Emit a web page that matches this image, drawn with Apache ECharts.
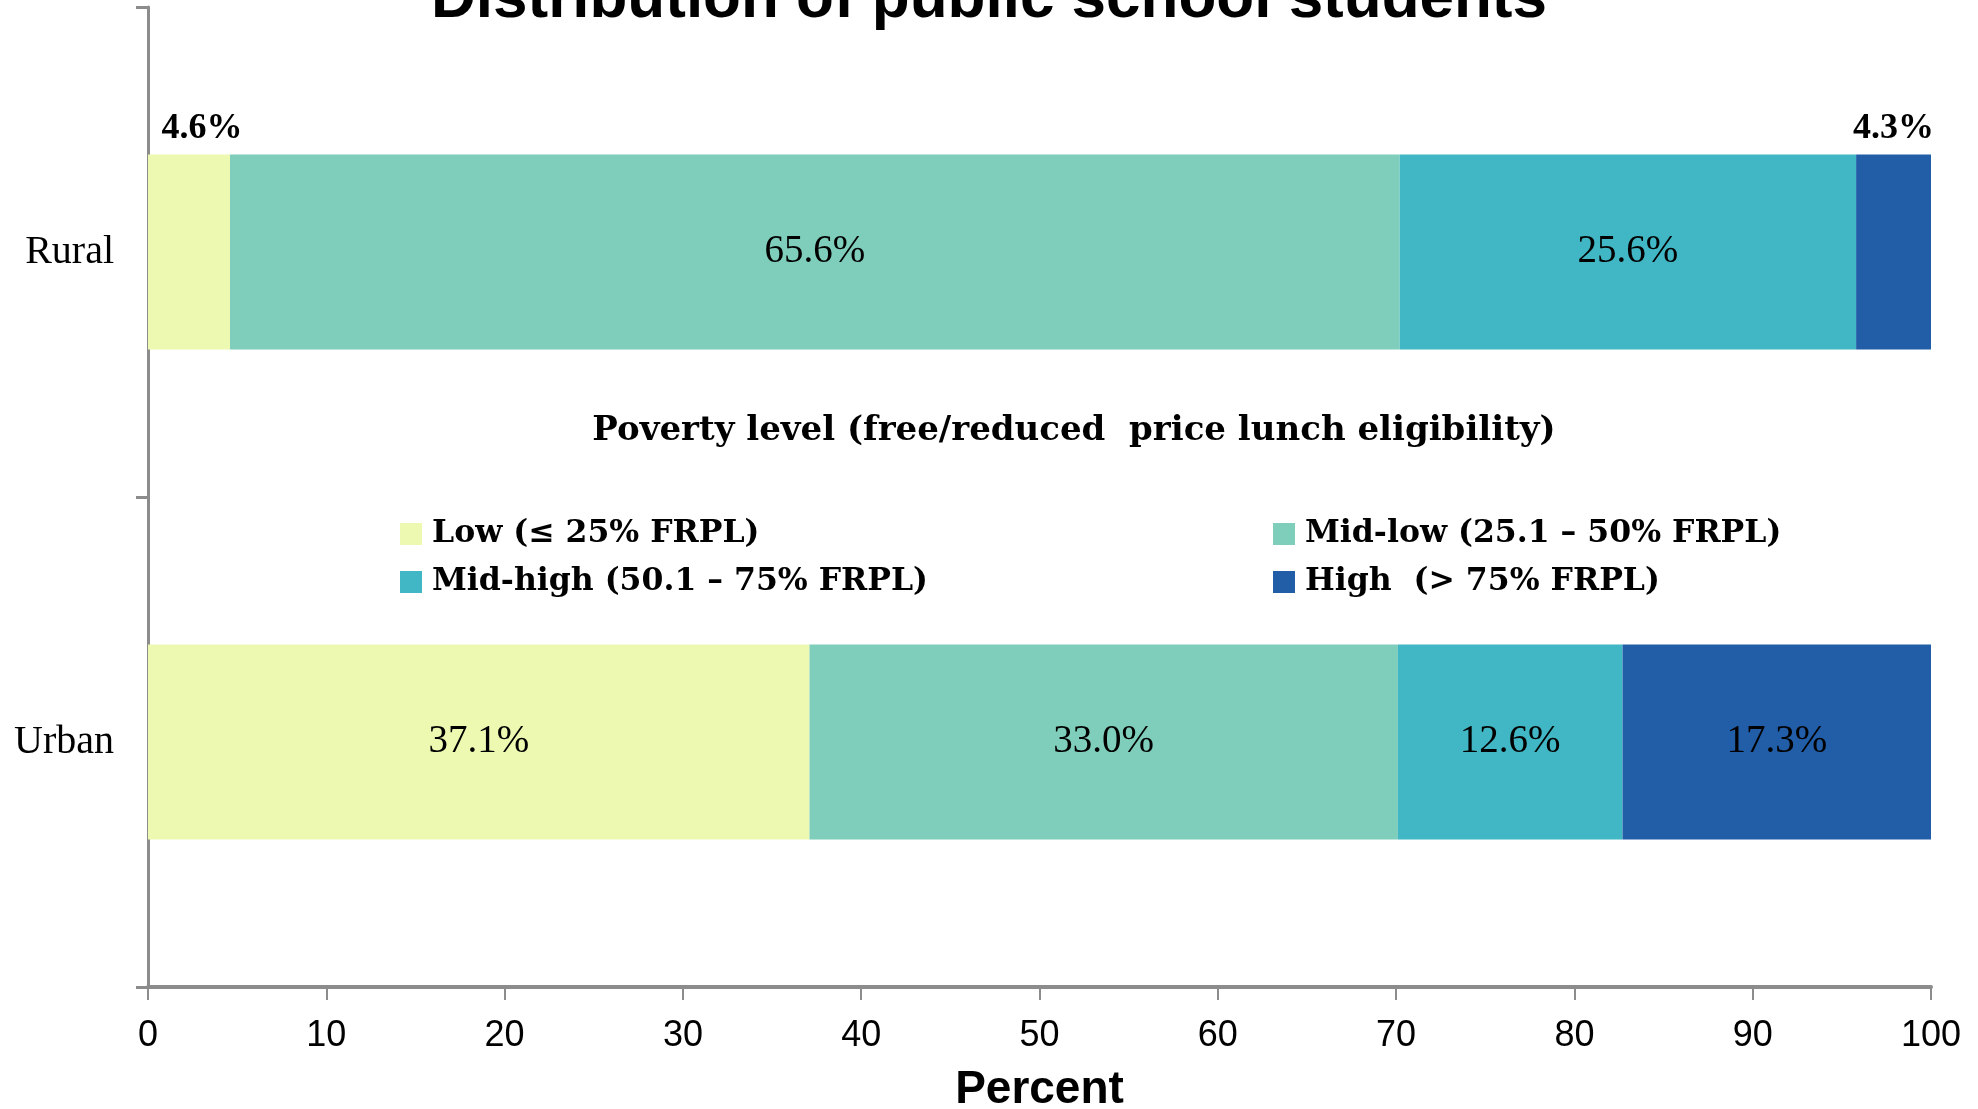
<!DOCTYPE html>
<html>
<head>
<meta charset="utf-8">
<title>Distribution of public school students</title>
<script src="https://cdn.jsdelivr.net/npm/echarts@6/dist/echarts.min.js"></script>
<style>
  html, body { margin: 0; padding: 0; background: #ffffff; }
  #chart { width: 1978px; height: 1109px; }
</style>
</head>
<body>
<div id="chart"></div>
<script>
// Locale categories (top to bottom)
const locales = ['Rural', 'Urban'];

// Poverty level groups
const levelNames = [
  'Low (≤ 25% FRPL)',
  'Mid-low (25.1 – 50% FRPL)',
  'Mid-high (50.1 – 75% FRPL)',
  'High  (> 75% FRPL)'
];

// Percent of students per group, in locale order [Rural, Urban]
const lowValues = [4.6, 37.1];
const midLowValues = [65.6, 33.0];
const midHighValues = [25.6, 12.6];
const highValues = [4.3, 17.3];

// Axis ticks
const xTicks = [0, 10, 20, 30, 40, 50, 60, 70, 80, 90, 100];

const levelColors = ['#edf8b1', '#7fcdbb', '#41b6c4', '#225ea8'];
const allValues = [lowValues, midLowValues, midHighValues, highValues];

const serif = '"Liberation Serif", "Times New Roman", serif';
const legendSerif = '"DejaVu Serif", serif';
const sans = '"Liberation Sans", Arial, sans-serif';

const fmt = p => Number(p.value).toFixed(1) + '%';

// Slim segments in the Rural bar carry their label above the bar
const aboveLabel = (dx) => ({
  position: 'top',
  distance: 8,
  offset: [dx, 0],
  fontFamily: serif,
  fontWeight: 'bold',
  fontSize: 36,
  color: '#000'
});

const series = allValues.map((vals, si) => ({
  name: levelNames[si],
  type: 'bar',
  stack: 'total',
  barWidth: 195,
  itemStyle: { color: levelColors[si] },
  label: {
    show: true,
    position: 'inside',
    formatter: fmt,
    fontFamily: serif,
    fontSize: 39,
    color: '#000'
  },
  data: vals.map((v, ci) => {
    const item = { value: v };
    if (ci === 0 && si === 0) item.label = aboveLabel(13);
    if (ci === 0 && si === 3) item.label = aboveLabel(0);
    return item;
  })
}));

const legendCommon = {
  orient: 'vertical',
  top: 516,
  padding: 0,
  itemWidth: 22,
  itemHeight: 22,
  itemGap: 12,
  icon: 'rect',
  selectedMode: false,
  textStyle: {
    fontFamily: legendSerif,
    fontWeight: 'bold',
    fontSize: 31.5,
    lineHeight: 36,
    color: '#000',
    padding: [0, 0, 0, 5]
  }
};

const chart = echarts.init(document.getElementById('chart'), null, { renderer: 'canvas' });

chart.setOption({
  backgroundColor: '#ffffff',
  animation: false,
  title: [
    {
      text: 'Distribution of public school students',
      left: 'center',
      top: -31,
      padding: 0,
      textStyle: {
        fontFamily: sans,
        fontWeight: 'bold',
        fontSize: 62,
        color: '#000',
        textShadowColor: '#8a8a8a',
        textShadowOffsetX: 2,
        textShadowOffsetY: 2,
        textShadowBlur: 0
      }
    },
    {
      text: 'Poverty level (free/reduced  price lunch eligibility)',
      left: 1074,
      textAlign: 'center',
      top: 414,
      padding: 0,
      textStyle: {
        fontFamily: legendSerif,
        fontWeight: 'bold',
        fontSize: 34,
        color: '#000'
      }
    }
  ],
  legend: [
    Object.assign({}, legendCommon, { left: 400, data: [levelNames[0], levelNames[2]] }),
    Object.assign({}, legendCommon, { left: 1273, data: [levelNames[1], levelNames[3]] })
  ],
  grid: {
    left: 148,
    right: 47,
    top: 7,
    bottom: 122,
    containLabel: false,
    outerBoundsMode: 'none'
  },
  xAxis: {
    type: 'value',
    min: xTicks[0],
    max: xTicks[xTicks.length - 1],
    interval: xTicks[1] - xTicks[0],
    name: 'Percent',
    nameLocation: 'middle',
    nameGap: 103,
    nameTextStyle: {
      fontFamily: sans,
      fontWeight: 'bold',
      fontSize: 46,
      color: '#000',
      verticalAlign: 'middle'
    },
    axisLine: { show: true, lineStyle: { color: '#8c8c8c', width: 4 } },
    axisTick: { show: true, length: 13, lineStyle: { color: '#8c8c8c', width: 2 } },
    axisLabel: {
      margin: 31,
      fontFamily: sans,
      fontSize: 36,
      color: '#000'
    },
    splitLine: { show: false }
  },
  yAxis: {
    type: 'category',
    inverse: true,
    data: locales,
    axisLine: { show: true, lineStyle: { color: '#8c8c8c', width: 3 } },
    axisTick: { show: true, length: 12, alignWithLabel: false, lineStyle: { color: '#8c8c8c', width: 3 } },
    axisLabel: {
      margin: 34,
      fontFamily: serif,
      fontSize: 40,
      color: '#000'
    },
    splitLine: { show: false }
  },
  series: series
});
</script>
</body>
</html>
